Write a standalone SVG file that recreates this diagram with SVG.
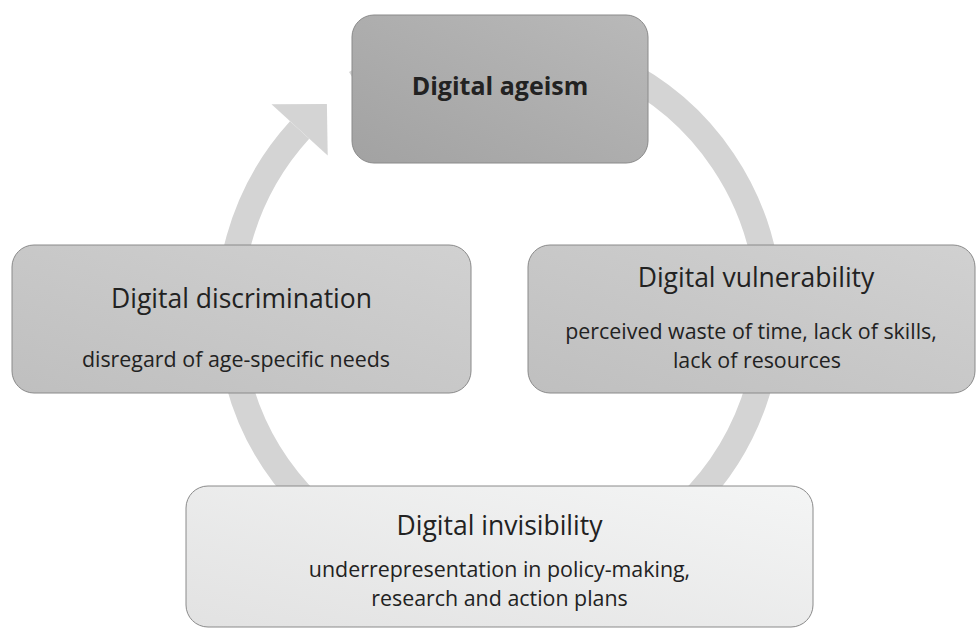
<svg xmlns="http://www.w3.org/2000/svg" width="976" height="628" viewBox="0 0 976 628">
  <style>
    .box { stroke: #8a8a8a; stroke-width: 1; }
    .t { font-family: "Open Sans", "Liberation Sans", sans-serif; fill: #222222; text-anchor: middle; }
    .title { font-size: 26.5px; }
    .bold { font-size: 25px; font-weight: bold; }
    .sub { font-size: 21.4px; }
    .ring { fill: none; stroke: #d4d4d4; stroke-width: 26; }
  </style>
  <defs>
    <linearGradient id="gTop" x1="0" y1="1" x2="1" y2="0">
      <stop offset="0" stop-color="#a2a2a2"/>
      <stop offset="1" stop-color="#b9b9b9"/>
    </linearGradient>
    <linearGradient id="gMid" x1="0" y1="1" x2="1" y2="0">
      <stop offset="0" stop-color="#bfbfbf"/>
      <stop offset="1" stop-color="#d1d1d1"/>
    </linearGradient>
    <linearGradient id="gBot" x1="0" y1="1" x2="1" y2="0">
      <stop offset="0" stop-color="#e2e2e2"/>
      <stop offset="1" stop-color="#f4f5f5"/>
    </linearGradient>
  </defs>

  <g id="connectors">
    <path class="ring" d="M 355.9 83.0 A 270 270 0 1 1 299.6 130.0"/>
    <polygon points="271.5,104.3 326.9,104 327.7,155.6" fill="#d4d4d4"/>
  </g>

  <g id="node-ageism">
    <rect class="box" x="352" y="15" width="296" height="148" rx="22" ry="22" fill="url(#gTop)"/>
    <text class="t bold" x="500" y="95">Digital ageism</text>
  </g>

  <g id="node-discrimination">
    <rect class="box" x="12" y="245" width="459" height="148" rx="22" ry="22" fill="url(#gMid)"/>
    <text class="t title" x="241.5" y="308">Digital discrimination</text>
    <text class="t sub" x="236" y="367">disregard of age-specific needs</text>
  </g>

  <g id="node-vulnerability">
    <rect class="box" x="528" y="245" width="447" height="148" rx="22" ry="22" fill="url(#gMid)"/>
    <text class="t title" x="756" y="287">Digital vulnerability</text>
    <text class="t sub" x="751" y="339">perceived waste of time, lack of skills,</text>
    <text class="t sub" x="757" y="368">lack of resources</text>
  </g>

  <g id="node-invisibility">
    <rect class="box" x="186" y="486" width="627" height="141" rx="22" ry="22" fill="url(#gBot)"/>
    <text class="t title" x="499.5" y="535">Digital invisibility</text>
    <text class="t sub" x="499.5" y="577">underrepresentation in policy-making,</text>
    <text class="t sub" x="499.5" y="606">research and action plans</text>
  </g>
</svg>
